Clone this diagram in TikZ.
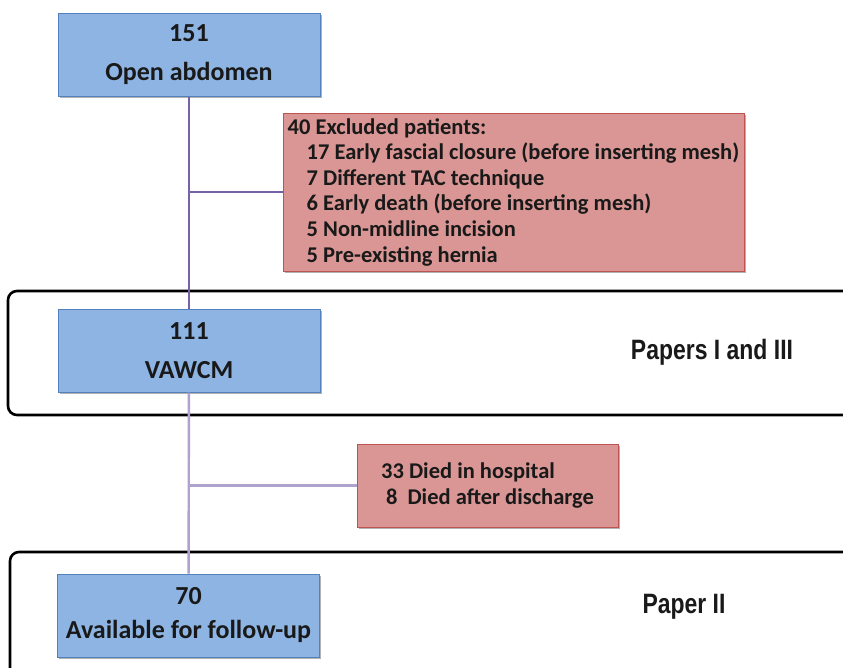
\documentclass[tikz,border=0pt]{standalone}
\usepackage{fontspec}
\setmainfont{Carlito}
\newfontfamily\narrowsans[FakeStretch=0.82]{Liberation Sans}
\usetikzlibrary{shadows}
\definecolor{boxblue}{RGB}{141,180,226}
\definecolor{boxblueline}{RGB}{84,128,188}
\definecolor{boxred}{RGB}{217,150,148}
\definecolor{boxredline}{RGB}{190,84,82}
\definecolor{linkdark}{RGB}{118,98,165}
\definecolor{linklight}{RGB}{176,162,206}
\definecolor{txt}{RGB}{25,25,25}
\tikzset{
  boxshadow/.style={drop shadow={shadow xshift=1.5pt,shadow yshift=-2pt,opacity=0.3,fill=black}},
  bluebox/.style={draw=boxblueline,line width=1pt,fill=boxblue,boxshadow,
    minimum width=262pt,minimum height=83pt,align=center,text=txt,
    font=\fontsize{26}{31}\selectfont\bfseries},
  redbox/.style={draw=boxredline,line width=1pt,fill=boxred,boxshadow,
    align=left,text=txt,font=\fontsize{22.5}{25.6}\selectfont\bfseries},
  papertext/.style={text=txt,font=\fontsize{28}{32}\selectfont\narrowsans\bfseries},
  frame/.style={line width=2.6pt,rounded corners=9pt},
  linkA/.style={linkdark,line width=2.4pt},
  linkB/.style={linklight,line width=2.4pt}
}
\begin{document}
\begin{tikzpicture}[x=1pt,y=-1pt]
\useasboundingbox (0,0) rectangle (843,667);
%
\draw[frame](860,291) -- (8,291) -- (8,415) -- (860,415);
\draw[frame](860,552) -- (10,552) -- (10,690);
%
\node[bluebox](open) at (189,54.5) {151\\[8pt]Open abdomen};
%
\node[redbox,minimum width=461pt,minimum height=158pt](excl) at (513.5,192) {40 Excluded patients:\\
\hspace*{19pt}17 Early fascial closure (before inserting mesh)\\
\hspace*{19pt}7 Different TAC technique\\
\hspace*{19pt}6 Early death (before inserting mesh)\\
\hspace*{19pt}5 Non-midline incision\\
\hspace*{19pt}5 Pre-existing hernia};
%
\node[bluebox](vawcm) at (189,350.5) {111\\[8pt]VAWCM};
\node[papertext](papA) at (712,352) {Papers I and III};
%
\node[redbox,minimum width=261pt,minimum height=83pt](died) at (487.5,485.5) {33 Died in hospital\\
\hspace*{5pt}8\hspace{10pt}Died after discharge};
%
\node[bluebox](follow) at (188.5,615.5) {70\\[3pt]Available for follow-up};
\node[papertext](papB) at (684,607) {Paper II};
%
\coordinate(b1) at (open.south |- excl.west);
\draw[linkA](open) -- (vawcm);
\draw[linkA](b1) -- (excl);
%
\coordinate(b2) at (vawcm.south |- died.west);
\draw[linkB](vawcm) -- (follow);
\draw[linkB](b2) -- (died);
\end{tikzpicture}
\end{document}
